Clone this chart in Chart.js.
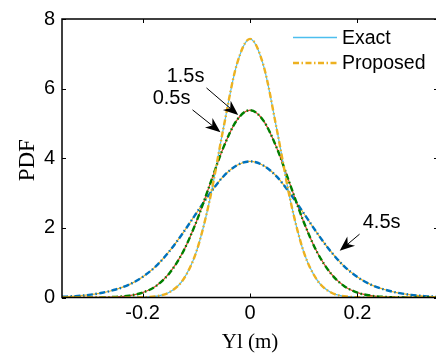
<!DOCTYPE html>
<html><head><meta charset="utf-8">
<script src="https://cdn.jsdelivr.net/npm/chart.js@4"></script>
<style>
html,body{margin:0;padding:0;background:#fff;overflow:hidden;width:436px;height:356px}
#wrap{position:absolute;left:0;top:0;width:440px;height:356px}
</style>
</head><body>
<div id="wrap"><canvas id="c" width="440" height="356"></canvas></div>
<script>
// ---- data ----
const xValues = [-0.35,-0.325,-0.3,-0.275,-0.25,-0.225,-0.2,-0.175,-0.15,-0.125,-0.1,-0.075,-0.05,-0.025,0,
                 0.025,0.05,0.075,0.1,0.125,0.15,0.175,0.2,0.225,0.25,0.275,0.3,0.325,0.35];
const exact05    = [0,0,0,0,0,0.001,0.007,0.037,0.15,0.50,1.31,2.80,4.82,6.67,7.43,6.67,4.82,2.80,1.31,0.50,0.15,0.037,0.007,0.001,0,0,0,0,0];
const proposed05 = [0,0,0,0,0,0.001,0.007,0.037,0.15,0.50,1.31,2.80,4.82,6.67,7.43,6.67,4.82,2.80,1.31,0.50,0.15,0.037,0.007,0.001,0,0,0,0,0];
const exact15    = [0,0,0.002,0.006,0.018,0.054,0.14,0.33,0.70,1.30,2.17,3.23,4.29,5.08,5.38,5.08,4.29,3.23,2.17,1.30,0.70,0.33,0.14,0.054,0.018,0.006,0.002,0,0];
const proposed15 = [0,0,0.002,0.006,0.018,0.054,0.14,0.33,0.70,1.30,2.17,3.23,4.29,5.08,5.38,5.08,4.29,3.23,2.17,1.30,0.70,0.33,0.14,0.054,0.018,0.006,0.002,0,0];
const exact45    = [0.02,0.04,0.075,0.135,0.23,0.37,0.59,0.90,1.33,1.85,2.42,2.98,3.47,3.79,3.91,3.79,3.47,2.98,2.42,1.85,1.33,0.90,0.59,0.37,0.23,0.135,0.075,0.04,0.02];
const proposed45 = [0.02,0.04,0.075,0.135,0.23,0.37,0.59,0.90,1.33,1.85,2.42,2.98,3.47,3.79,3.91,3.79,3.47,2.98,2.42,1.85,1.33,0.90,0.59,0.37,0.23,0.135,0.075,0.04,0.02];
const xTickValues = [-0.2, 0, 0.2];
const yTickValues = [0, 2, 4, 6, 8];
const legendLabels = ['Exact', 'Proposed'];
const timeLabels = ['1.5s', '0.5s', '4.5s'];
const xTitle = 'Yl (m)';
const yTitle = 'PDF';

// annotation anchors in data units: label centre, arrow start, arrow tip
const arrowSpecs = [
  {tx:-0.120, ty:6.37, x0:-0.081, y0:6.02, x1:-0.022, y1:5.24},
  {tx:-0.146, ty:5.75, x0:-0.107, y0:5.39, x1:-0.055, y1:4.75},
  {tx: 0.245, ty:2.18, x0: 0.204, y0:1.82, x1: 0.167, y1:1.34}
];

const pts = ys => xValues.map((x, i) => ({x, y: ys[i]}));
const DASHDOT = [6, 2.5, 1.5, 2.5];
const SANS = '"Liberation Sans", Arial, sans-serif';
const SERIF = '"Liberation Serif", "Times New Roman", serif';

function exactDs(label, ys, color) {
  return {label, data: pts(ys), borderColor: color, borderWidth: 1.2, pointRadius: 0,
          cubicInterpolationMode: 'monotone', fill: false, order: 1};
}
function propDs(label, ys, color) {
  return {label, data: pts(ys), borderColor: color, borderWidth: 2.4, borderDash: DASHDOT,
          pointRadius: 0, cubicInterpolationMode: 'monotone', fill: false, order: 0};
}

const overlay = {
  id: 'overlay',
  afterDraw(chart) {
    const ctx = chart.ctx;
    const {left, right, top, bottom} = chart.chartArea;
    const xs = chart.scales.x, ys = chart.scales.y;
    ctx.save();
    // frame
    ctx.strokeStyle = '#000';
    ctx.lineWidth = 1.5;
    ctx.beginPath();
    ctx.rect(left, top, right - left, bottom - top);
    ctx.stroke();
    // inward ticks
    ctx.lineWidth = 1;
    ctx.beginPath();
    xTickValues.forEach(v => {
      const p = Math.round(xs.getPixelForValue(v)) + 0.5;
      ctx.moveTo(p, bottom); ctx.lineTo(p, bottom - 4);
      ctx.moveTo(p, top); ctx.lineTo(p, top + 4);
    });
    yTickValues.forEach(v => {
      const p = Math.round(ys.getPixelForValue(v)) + 0.5;
      ctx.moveTo(left, p); ctx.lineTo(left + 4, p);
      ctx.moveTo(right, p); ctx.lineTo(right - 4, p);
    });
    ctx.stroke();

    // legend
    const dsE = chart.data.datasets[0], dsP = chart.data.datasets[1];
    const lx0 = 293, lx1 = 337, ly = [37.5, 63];
    ctx.lineWidth = 1.5; ctx.strokeStyle = dsE.borderColor; ctx.setLineDash([]);
    ctx.beginPath(); ctx.moveTo(lx0, ly[0]); ctx.lineTo(lx1, ly[0]); ctx.stroke();
    ctx.lineWidth = dsP.borderWidth; ctx.strokeStyle = dsP.borderColor; ctx.setLineDash(DASHDOT);
    ctx.beginPath(); ctx.moveTo(lx0, ly[1]); ctx.lineTo(lx1, ly[1]); ctx.stroke();
    ctx.setLineDash([]);
    ctx.fillStyle = '#000';
    ctx.font = '19.5px ' + SANS;
    ctx.textAlign = 'left'; ctx.textBaseline = 'middle';
    ctx.fillText(legendLabels[0], 342, ly[0] + 1);
    ctx.fillText(legendLabels[1], 342, ly[1] + 1);

    // annotations with arrows
    ctx.font = '20px ' + SANS;
    ctx.textAlign = 'center'; ctx.textBaseline = 'middle';
    arrowSpecs.forEach((a, i) => {
      ctx.fillText(timeLabels[i], xs.getPixelForValue(a.tx), ys.getPixelForValue(a.ty) + 1);
      const X0 = xs.getPixelForValue(a.x0), Y0 = ys.getPixelForValue(a.y0);
      const X1 = xs.getPixelForValue(a.x1), Y1 = ys.getPixelForValue(a.y1);
      const ang = Math.atan2(Y1 - Y0, X1 - X0);
      const L = 15, W = 6, N = 10.5;
      const ux = Math.cos(ang), uy = Math.sin(ang), nx = -uy, ny = ux;
      ctx.lineWidth = 1; ctx.strokeStyle = '#000';
      ctx.beginPath(); ctx.moveTo(X0, Y0); ctx.lineTo(X1 - ux * N, Y1 - uy * N); ctx.stroke();
      ctx.beginPath();
      ctx.moveTo(X1, Y1);
      ctx.lineTo(X1 - ux * L + nx * W, Y1 - uy * L + ny * W);
      ctx.lineTo(X1 - ux * N, Y1 - uy * N);
      ctx.lineTo(X1 - ux * L - nx * W, Y1 - uy * L - ny * W);
      ctx.closePath(); ctx.fill();
    });

    // axis titles
    ctx.font = '21px ' + SERIF;
    ctx.textAlign = 'center'; ctx.textBaseline = 'alphabetic';
    ctx.fillText(xTitle, xs.getPixelForValue(0), 348);
    ctx.save();
    ctx.translate(34, (top + bottom) / 2 + 2);
    ctx.rotate(-Math.PI / 2);
    ctx.font = '23px ' + SERIF;
    ctx.fillText(yTitle, 0, 0);
    ctx.restore();
    ctx.restore();
  }
};

new Chart(document.getElementById('c'), {
  type: 'line',
  data: {
    datasets: [
      exactDs('Exact 0.5s', exact05, '#4DBEEE'),
      propDs('Proposed 0.5s', proposed05, '#EDB120'),
      exactDs('Exact 1.5s', exact15, '#D9402A'),
      propDs('Proposed 1.5s', proposed15, '#008000'),
      exactDs('Exact 4.5s', exact45, '#EDB120'),
      propDs('Proposed 4.5s', proposed45, '#0072BD')
    ]
  },
  options: {
    responsive: false,
    animation: false,
    devicePixelRatio: 1,
    layout: {padding: {left: 0, top: 15, right: 2, bottom: 0}},
    plugins: {legend: {display: false}, tooltip: {enabled: false}},
    scales: {
      x: {
        type: 'linear', min: -0.35, max: 0.35,
        afterBuildTicks: s => { s.ticks = xTickValues.map(v => ({value: v})); },
        afterFit: s => { s.height = 58.5; },
        grid: {display: false, drawTicks: false},
        border: {display: false},
        ticks: {autoSkip: false, maxRotation: 0, padding: 4, color: '#000',
                font: {family: SANS, size: 20}, callback: v => String(v)}
      },
      y: {
        min: 0, max: 8,
        afterBuildTicks: s => { s.ticks = yTickValues.map(v => ({value: v})); },
        afterFit: s => { s.width = 62; },
        grid: {display: false, drawTicks: false},
        border: {display: false},
        ticks: {padding: 7, color: '#000', font: {family: SANS, size: 20}, callback: v => String(v)}
      }
    }
  },
  plugins: [overlay]
});
</script>
</body></html>
